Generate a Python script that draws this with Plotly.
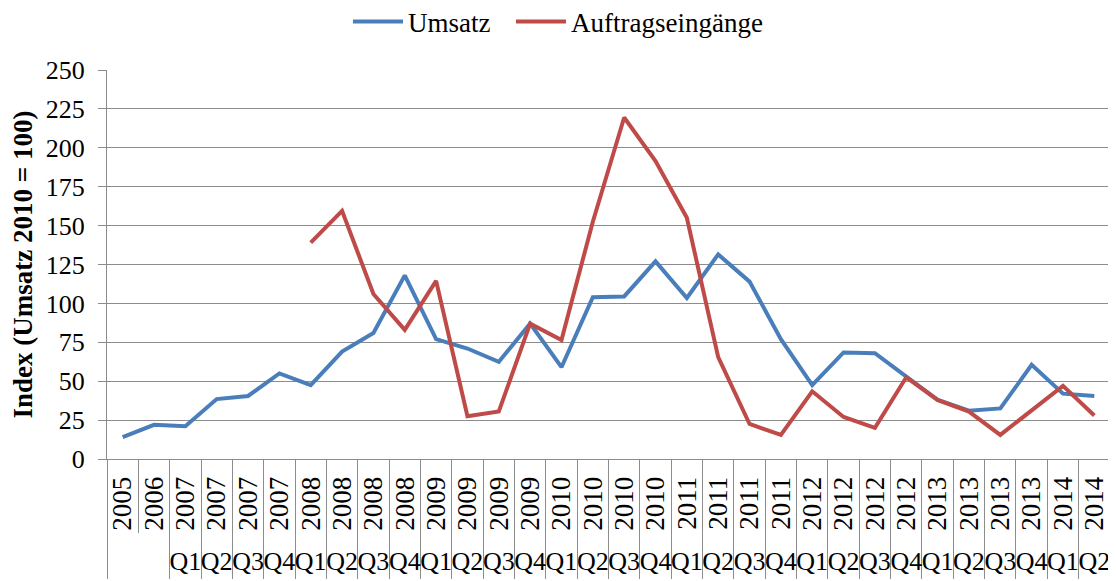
import plotly.graph_objects as go

# ---- data ----
years = ["2005", "2006"] + [str(y) for y in range(2007, 2014) for _ in range(4)] + ["2014", "2014"]
quarters = ["", ""] + ["Q1", "Q2", "Q3", "Q4"] * 7 + ["Q1", "Q2"]
categories = [f"{y} {q}".strip() for y, q in zip(years, quarters)]

umsatz = [14, 22, 21, 38.5, 40.5, 55, 47.5, 69, 81, 118, 77, 71, 62.5, 87, 59, 104,
          104.5, 127, 103.5, 131.5, 114, 77, 47.5, 68.5, 68, 53, 38, 31, 32.5, 60.5, 42, 40.5]
auftrag = [None, None, None, None, None, None, 139, 159.5, 106, 83, 114.5, 27.5, 30.5, 87,
           76.5, 152.5, 219.5, 191.5, 155, 65.5, 22.5, 15.5, 43.5, 27, 20, 52.5, 38, 30.5,
           15.5, 31, 47, 28]

y_ticks = list(range(0, 251, 25))

FONT = "Liberation Serif"
GRID = "#8c8c8c"
BLUE = "#4A7EBB"
RED = "#BE4B48"

W, H = 1108, 573   # page body adds an 8px margin

n = len(categories)
rng = [-0.5, n - 0.5]
boundaries = [i - 0.5 for i in range(n + 1)]
# boundaries where both label rows are separated (all except between 2005 and 2006)
long_bounds = [b for b in boundaries if b != 0.5]
q_idx = [i for i, q in enumerate(quarters) if q]
q_txt = [quarters[i] for i in q_idx]

fig = go.Figure()
fig.add_trace(go.Scatter(x=categories, y=umsatz, name="Umsatz", mode="lines",
                         line=dict(color=BLUE, width=4), legend="legend"))
fig.add_trace(go.Scatter(x=categories, y=auftrag, name="Auftragseingänge", mode="lines",
                         line=dict(color=RED, width=4), connectgaps=False,
                         legend="legend2"))
# empty helper traces so the overlay axes are drawn
for ax in ["x2", "x3", "x4"]:
    fig.add_trace(go.Scatter(x=[], y=[], xaxis=ax, yaxis="y", showlegend=False,
                             hoverinfo="skip"))

leg_common = dict(orientation="h", xref="container", yref="container",
                  xanchor="left", yanchor="middle", y=1 - 14 / H,
                  font=dict(family=FONT, size=27, color="black"),
                  bgcolor="rgba(0,0,0,0)", itemwidth=50)

fig.update_layout(
    width=W, height=H,
    margin=dict(l=99, r=6, t=62, b=122, autoexpand=False),
    paper_bgcolor="white", plot_bgcolor="white",
    font=dict(family=FONT, size=26, color="black"),
    showlegend=True,
    legend=dict(leg_common, x=340 / W),
    legend2=dict(leg_common, x=503 / W),
    xaxis=dict(type="category", categoryarray=categories, categoryorder="array",
               range=rng, tickvals=categories, ticktext=years, tickangle=-90,
               ticks="", showgrid=False, showline=True, linecolor=GRID, linewidth=1,
               tickfont=dict(family=FONT, size=27), ticklabelstandoff=6,
               zeroline=False, fixedrange=True, automargin=False),
    xaxis2=dict(type="linear", overlaying="x", anchor="y", side="bottom", range=rng,
                tickmode="array", tickvals=boundaries, ticks="outside", ticklen=73,
                tickcolor=GRID, tickwidth=1, showticklabels=False, showgrid=False,
                showline=False, zeroline=False, automargin=False),
    xaxis3=dict(type="linear", overlaying="x", anchor="y", side="bottom", range=rng,
                tickmode="array", tickvals=long_bounds, ticks="outside", ticklen=119,
                tickcolor=GRID, tickwidth=1, showticklabels=False, showgrid=False,
                showline=False, zeroline=False, automargin=False),
    xaxis4=dict(type="linear", overlaying="x", anchor="y", side="bottom", range=rng,
                tickmode="array", tickvals=q_idx, ticktext=q_txt, ticks="outside",
                ticklen=79, tickcolor="rgba(0,0,0,0)", showgrid=False, showline=False,
                zeroline=False, tickangle=0, tickfont=dict(family=FONT, size=26),
                automargin=False),
    yaxis=dict(range=[0, 250], tickmode="array", tickvals=y_ticks, showgrid=True,
               gridcolor=GRID, gridwidth=1, showline=True, linecolor=GRID, linewidth=1,
               ticks="outside", ticklen=8, tickcolor=GRID, zeroline=False,
               tickfont=dict(family=FONT, size=26), ticklabelstandoff=8,
               automargin=False,
               title=dict(text="<b>Index (Umsatz 2010 = 100)</b>",
                          font=dict(family=FONT, size=27), standoff=16)),
)

fig.write_html("out.html")
